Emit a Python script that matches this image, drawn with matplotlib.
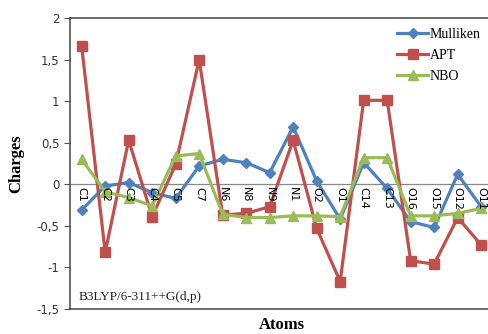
import matplotlib.pyplot as plt
import numpy as np

# Données
atoms = ['C1', 'C2', 'C3', 'C4', 'C5', 'C7', 'N6', 'N8', 'N9', 'N1',
         'O2', 'O1', 'C14', 'C13', 'O16', 'O15', 'O12', 'O11']
mulliken = [-0.31, -0.02, 0.02, -0.10, -0.17, 0.22, 0.30, 0.26, 0.14, 0.69,
            0.04, -0.42, 0.26, -0.05, -0.45, -0.52, 0.12, -0.27]
apt = [1.66, -0.82, 0.53, -0.39, 0.24, 1.50, -0.37, -0.35, -0.27, 0.53,
       -0.53, -1.17, 1.01, 1.01, -0.92, -0.96, -0.40, -0.73]
nbo = [0.30, -0.09, -0.16, -0.26, 0.34, 0.37, -0.36, -0.40, -0.40, -0.38,
       -0.38, -0.39, 0.32, 0.32, -0.38, -0.38, -0.35, -0.29]
yticks = [-1.5, -1, -0.5, 0, 0.5, 1, 1.5, 2]
ytick_labels = ['-1,5', '-1', '-0,5', '0', '0,5', '1', '1,5', '2']

fig = plt.figure(figsize=(4.89, 3.34), dpi=100)
ax = fig.add_axes([0.143, 0.075, 0.865, 0.871])

x = np.arange(len(atoms))
ax.plot(x, mulliken, color='#4F81BD', marker='D', markersize=5, lw=2.3, label='Mulliken')
ax.plot(x, apt, color='#C0504D', marker='s', markersize=6.5, lw=2.3, label='APT')
ax.plot(x, nbo, color='#9BBB59', marker='^', markersize=6.5, lw=2.3, label='NBO')

ax.set_xlim(-0.5, len(atoms) - 0.5)
ax.set_ylim(-1.5, 2)
ax.set_yticks(yticks)
ax.set_yticklabels(ytick_labels, fontsize=8.5, color='#333333')

# Axe des x sur la ligne zéro, comme dans Excel
ax.axhline(0, color='#888888', lw=0.9, zorder=0)
ax.set_xticks(x)
ax.set_xticklabels([])
for xi, name in zip(x, atoms):
    ax.text(xi, -0.03, name, rotation=-90, ha='center', va='top', fontsize=8, zorder=5)
ax.tick_params(axis='x', which='both', length=0)
ax.tick_params(axis='y', length=4, width=0.8, color='#555555')

ax.spines['right'].set_visible(False)
for s in ['left', 'bottom', 'top']:
    ax.spines[s].set_color('#444444')
    ax.spines[s].set_linewidth(1.1)

ax.set_ylabel('Charges', family='Liberation Serif', fontsize=12, fontweight='bold', labelpad=9)
ax.set_xlabel('Atoms', family='Liberation Serif', fontsize=12, fontweight='bold', labelpad=2)
ax.text(0.02, 0.03, 'B3LYP/6-311++G(d,p)', transform=ax.transAxes,
        family='Liberation Serif', fontsize=9.5, color='#222222')

ax.legend(loc='upper right', bbox_to_anchor=(1.0, 1.01), frameon=False,
          prop={'family': 'Liberation Serif', 'size': 10}, handlelength=2.2,
          handletextpad=0.1, labelspacing=0.6)

plt.savefig('out.png', dpi=100)
plt.close()
